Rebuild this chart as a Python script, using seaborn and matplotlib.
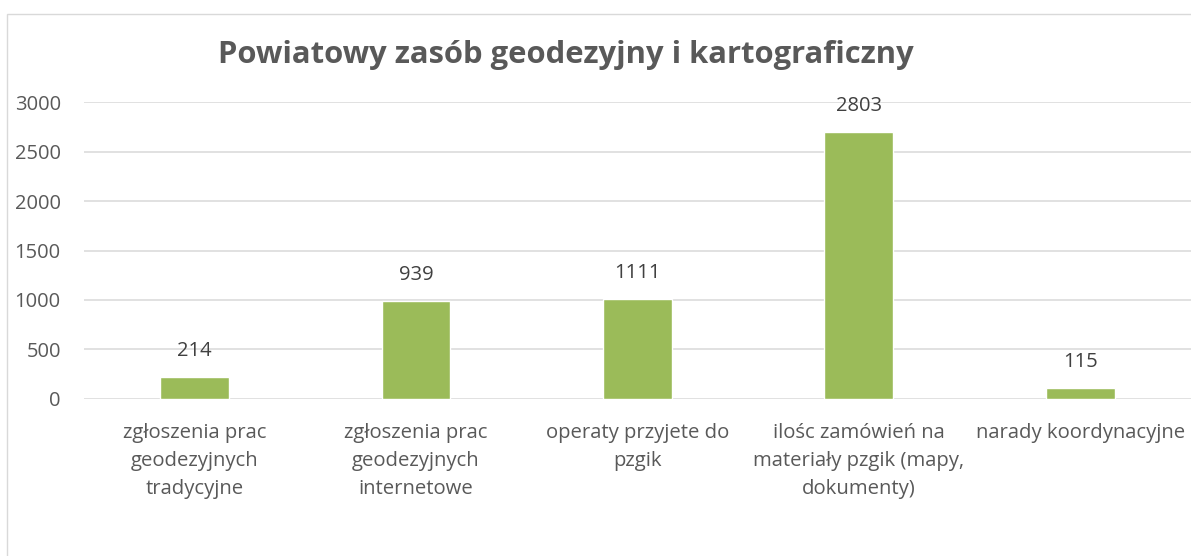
import matplotlib
matplotlib.use("Agg")
import matplotlib.pyplot as plt
import seaborn as sns
import pandas as pd
from matplotlib.patches import Rectangle

# ---- data ----
categories = [
    "zgłoszenia prac\ngeodezyjnych\ntradycyjne",
    "zgłoszenia prac\ngeodezyjnych\ninternetowe",
    "operaty przyjete do\npzgik",
    "ilośc zamówień na\nmateriały pzgik (mapy,\ndokumenty)",
    "narady koordynacyjne",
]
bar_heights = [222, 994, 1011, 2697, 114]      # drawn bar heights
label_values = [214, 939, 1111, 2803, 115]     # data labels printed above the bars
y_ticks = [0, 500, 1000, 1500, 2000, 2500, 3000]
title = "Powiatowy zasób geodezyjny i kartograficzny"

df = pd.DataFrame({"cat": categories, "val": bar_heights})

sns.set_theme(style="white")
plt.rcParams["font.family"] = ["Open Sans", "DejaVu Sans"]

W, H = 1191, 556
fig = plt.figure(figsize=(W / 100, H / 100), dpi=100)
fig.patch.set_facecolor("white")

# chart border
fig.patches.append(Rectangle((7 / W, -0.2), 1.5, 1 - 14 / H + 0.2,
                             transform=fig.transFigure, fill=False,
                             edgecolor="#D9D9D9", linewidth=1.0))

ax = fig.add_axes([83.7 / W, 1 - 399.3 / H, 1107.3 / W, (399.3 - 101.7) / H])
sns.barplot(data=df, x="cat", y="val", color="#9BBB59", width=0.31,
            saturation=1, ax=ax, zorder=3)

ax.set_xlim(-0.5, 4.5)
ax.set_ylim(-4, 3004)
ax.set_yticks(y_ticks)
ax.set_yticklabels([str(t) for t in y_ticks])
ax.grid(axis="y", color="#D9D9D9", linewidth=1.1, zorder=0)
ax.set_axisbelow(True)
for s in ax.spines.values():
    s.set_visible(False)
ax.set_xlabel("")
ax.set_ylabel("")
ax.tick_params(axis="y", length=0, pad=16.5, labelsize=14.5, labelcolor="#595959")
ax.tick_params(axis="x", length=0, pad=17, labelsize=14.6, labelcolor="#595959")
for lbl in ax.get_xticklabels():
    lbl.set_linespacing(1.55)
    lbl.set_ha("center")

for i, (h, v) in enumerate(zip(bar_heights, label_values)):
    ax.annotate(str(v), xy=(i, h), xytext=(0, 18.7), textcoords="offset points",
                ha="center", va="center", fontsize=14.5, color="#404040")

fig.text(565.5 / W, 1 - 55 / H, title, ha="center", va="center",
         fontsize=22.3, fontweight="bold", color="#595959")

fig.savefig("out.png", dpi=100, facecolor="white")
